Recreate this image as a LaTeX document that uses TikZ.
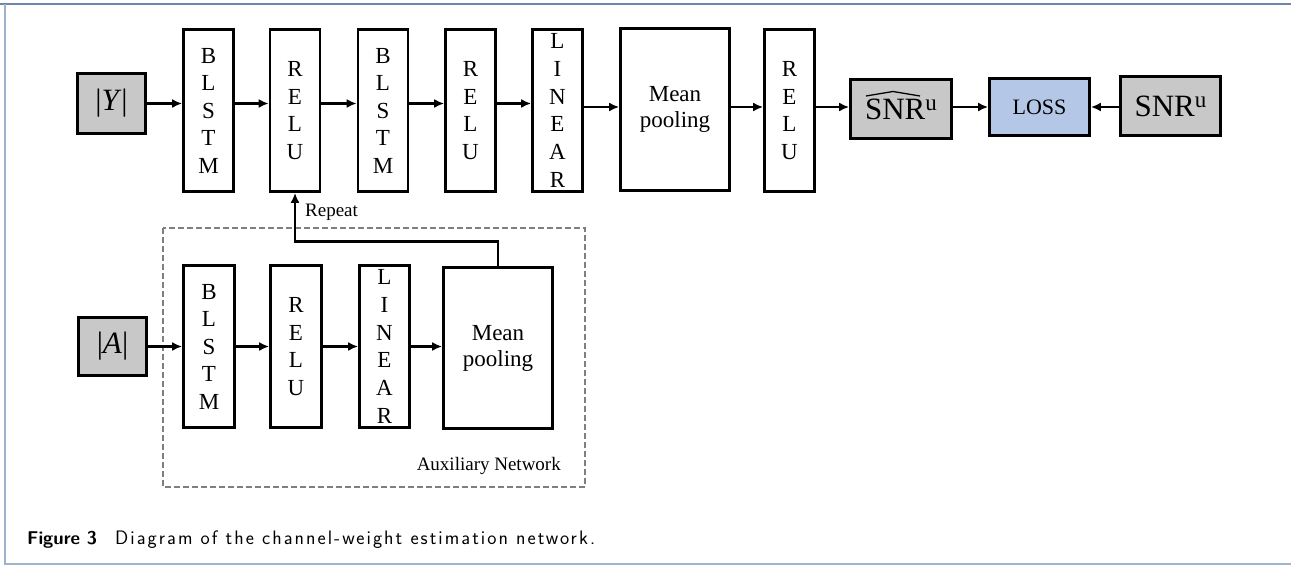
\documentclass[tikz,border=0pt]{standalone}
\usepackage{amsmath}
\usepackage{fontspec}
\setmainfont{Liberation Serif}
\setsansfont{Latin Modern Sans}
\usetikzlibrary{arrows.meta,calc}
\definecolor{boxgray}{HTML}{C8C8C8}
\definecolor{lossblue}{HTML}{B4C7E7}
\definecolor{frametop}{HTML}{6A86A8}
\definecolor{frameside}{HTML}{9DB3CE}
\definecolor{dashgray}{HTML}{7F7F7F}
\tikzset{
  blk/.style={draw, line width=2.7pt, fill=white, inner sep=0pt, align=center,
    minimum width=50pt, minimum height=162pt, font=\fontsize{23}{27.5}\selectfont},
  inbox/.style={draw, line width=2.7pt, fill=boxgray, inner sep=0pt, align=center},
  arr/.style={line width=2.5pt, -{Latex[length=10pt,width=9pt]}},
  dashbox/.style={draw=dashgray, line width=2.2pt, dash pattern=on 6pt off 3pt},
  lbl/.style={inner sep=0pt, font=\fontsize{19}{22}\selectfont}
}
\begin{document}
\begin{tikzpicture}[x=1pt, y=-1pt]
\useasboundingbox (0,0) rectangle (1291,565);
% frame
\draw[frametop, line width=1.5pt] (0,4) -- (1291,4);
\draw[frameside, line width=1.5pt] (5,4) -- (5,564) -- (1291,564);

% top row
\node[inbox, minimum width=68pt, minimum height=60pt, font=\fontsize{31}{34}\selectfont] (Y) at (111.5,103.5) {|\textit{Y}|};
\node[blk] (b1) at (208.5,110.5) {B\\L\\S\\T\\M};
\node[blk] (r1) at (295,110.5) {R\\E\\L\\U};
\node[blk] (b2) at (383,110.5) {B\\L\\S\\T\\M};
\node[blk] (r2) at (470.5,110.5) {R\\E\\L\\U};
\node[blk, font=\fontsize{23}{27.8}\selectfont] (l1) at (557.5,110.5) {L\\I\\N\\E\\A\\R};
\node[blk, minimum width=109pt, font=\fontsize{23}{26}\selectfont] (mp1) at (675,109.5) {Mean\\pooling};
\node[blk] (r3) at (789.5,110.5) {R\\E\\L\\U};
\node[inbox, minimum width=101pt, minimum height=59pt, font=\fontsize{31}{34}\selectfont] (sh) at (901,109)
  {SNR\raisebox{9pt}{\fontsize{23}{23}\selectfont u}};
\draw[line width=1.3pt, line join=round] ($(sh.center)+(-35,-13)$) -- ($(sh.center)+(-8,-17.5)$) -- ($(sh.center)+(19,-13)$);
\node[inbox, fill=lossblue, minimum width=100pt, minimum height=57pt, font=\fontsize{22}{26}\selectfont] (loss) at (1039.5,107) {LOSS};
\node[inbox, minimum width=100pt, minimum height=59pt, font=\fontsize{31}{34}\selectfont] (snr) at (1170.5,106)
  {SNR\raisebox{9pt}{\fontsize{23}{23}\selectfont u}};

% top arrows
\draw[arr] (Y.east) -- (Y.east -| b1.west);
\draw[arr] (b1.east |- Y.east) -- (r1.west |- Y.east);
\draw[arr] (r1.east |- Y.east) -- (b2.west |- Y.east);
\draw[arr] (b2.east |- Y.east) -- (r2.west |- Y.east);
\draw[arr] (r2.east |- Y.east) -- (l1.west |- Y.east);
\draw[arr] (l1.east |- loss.west) -- (mp1.west |- loss.west);
\draw[arr] (mp1.east |- loss.west) -- (r3.west |- loss.west);
\draw[arr] (r3.east |- loss.west) -- (sh.west |- loss.west);
\draw[arr] (sh.east |- loss.west) -- (loss.west);
\draw[arr] (snr.west |- loss.east) -- (loss.east);

% auxiliary network
\draw[dashbox] (163,228) rectangle (585,487);
\node[inbox, minimum width=68pt, minimum height=58pt, font=\fontsize{31}{34}\selectfont] (A) at (112.5,346.5) {|\textit{A}|};
\node[blk, minimum width=51pt] (b3) at (209,346.5) {B\\L\\S\\T\\M};
\node[blk, minimum width=51pt] (r4) at (296,346.5) {R\\E\\L\\U};
\node[blk, font=\fontsize{23}{27.8}\selectfont] (l2) at (384.5,346.5) {L\\I\\N\\E\\A\\R};
\node[blk, minimum width=109pt, minimum height=161pt, font=\fontsize{23}{26}\selectfont] (mp2) at (498,348) {Mean\\pooling};

\draw[arr] (A.east) -- (A.east -| b3.west);
\draw[arr] (b3.east |- A.east) -- (r4.west |- A.east);
\draw[arr] (r4.east |- A.east) -- (l2.west |- A.east);
\draw[arr] (l2.east |- A.east) -- (mp2.west |- A.east);

% repeat connection
\coordinate (rep) at (0,241.5);
\draw[arr] (mp2.north) -- (mp2.north |- rep) -| (r1.south);
\node[lbl, anchor=west] (replbl) at (305,212) {Repeat};
\node[lbl, anchor=base east] (auxlbl) at (561,470) {Auxiliary Network};

% caption
\node[inner sep=0pt, anchor=base west, font=\sffamily\fontsize{18.5}{22}\selectfont] (cap) at (27,544)
  {\textbf{Figure 3}};
\node[inner sep=0pt, anchor=base west, font=\sffamily\fontsize{19.5}{22}\selectfont\addfontfeatures{LetterSpace=10.5}] (captxt) at (115,544)
  {Diagram of the channel-weight estimation network.};
\end{tikzpicture}
\end{document}
